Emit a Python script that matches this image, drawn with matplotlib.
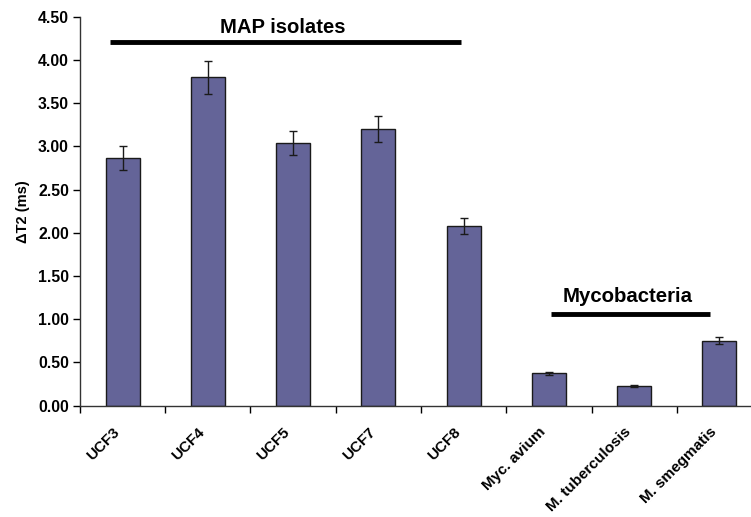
import matplotlib.pyplot as plt

strains = ["UCF3", "UCF4", "UCF5", "UCF7", "UCF8",
           "Myc. avium", "M. tuberculosis", "M. smegmatis"]
delta_t2 = [2.87, 3.80, 3.04, 3.20, 2.08, 0.375, 0.23, 0.75]
errors = [0.14, 0.19, 0.14, 0.15, 0.09, 0.02, 0.01, 0.04]

yticks = [0.0, 0.5, 1.0, 1.5, 2.0, 2.5, 3.0, 3.5, 4.0, 4.5]

plt.rcParams["font.family"] = ["Liberation Sans", "DejaVu Sans"]
plt.rcParams["font.weight"] = "bold"

fig = plt.figure(figsize=(7.51, 5.17), dpi=100)
ax = fig.add_axes([80 / 751, 111.3 / 517, 682 / 751, 389 / 517])

x = range(len(strains))
ax.bar(x, delta_t2, width=0.4, color="#646498", edgecolor="#1a1a1a",
       linewidth=1.0, zorder=2)
ax.errorbar(x, delta_t2, yerr=errors, fmt="none", ecolor="#1a1a1a",
            elinewidth=1.0, capsize=3, capthick=1.0, zorder=3)

ax.set_xlim(-0.5, 7.5)
ax.set_ylim(0, 4.5)
ax.set_yticks(yticks)
ax.set_yticklabels([f"{v:.2f}" for v in yticks], fontsize=11.3, fontweight="bold")
# category boundaries carry the tick marks, labels sit on invisible minor ticks
ax.set_xticks([i + 0.5 for i in range(-1, len(strains))], minor=False)
ax.set_xticklabels([])
ax.set_xticks([i - 0.12 for i in x], minor=True)
ax.set_xticklabels(strains, minor=True, rotation=45, ha="right",
                   rotation_mode="anchor", fontsize=11, fontweight="bold")
ax.tick_params(axis="x", which="minor", length=0, pad=14)
ax.tick_params(axis="x", which="major", length=5, width=1, direction="out")
ax.tick_params(axis="y", length=5, width=1, direction="out", pad=3)

for side in ["top", "right"]:
    ax.spines[side].set_visible(False)
for side in ["left", "bottom"]:
    ax.spines[side].set_linewidth(1.0)
    ax.spines[side].set_color("#333333")

ax.set_ylabel("ΔT2 (ms)", fontsize=10.5, fontweight="bold", labelpad=6)

# group brackets
ax.plot([-0.15, 3.97], [4.21, 4.21], color="black", linewidth=3.5,
        solid_capstyle="butt", clip_on=False)
ax.text(1.88, 4.37, "MAP isolates", ha="center", va="center",
        fontsize=14.6, fontweight="bold")
ax.plot([5.03, 6.89], [1.06, 1.06], color="black", linewidth=3.5,
        solid_capstyle="butt", clip_on=False)
ax.text(5.92, 1.26, "Mycobacteria", ha="center", va="center",
        fontsize=14.7, fontweight="bold")

fig.savefig("out.png", dpi=100)
